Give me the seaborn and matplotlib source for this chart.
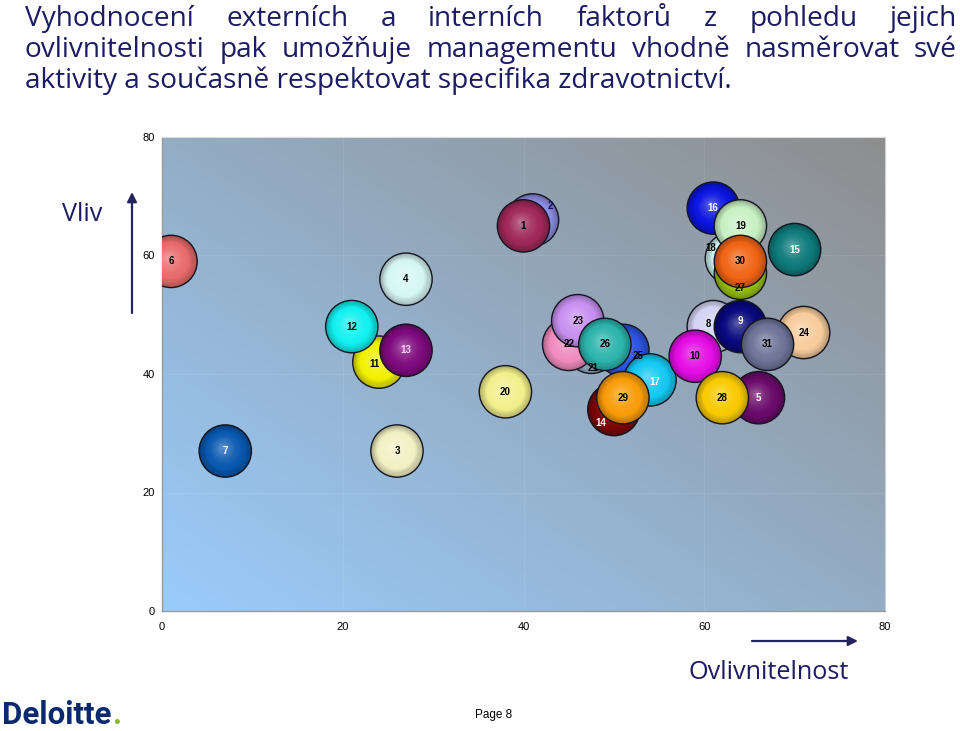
import numpy as np
import pandas as pd
import matplotlib
matplotlib.use("Agg")
import matplotlib.pyplot as plt
import matplotlib.transforms as mtransforms
from matplotlib.colors import to_rgb
import seaborn as sns

# ---------------- data ----------------
bubble_ids = list(range(1, 32))
influenceability = [40, 41, 26, 27, 66, 1, 7, 61, 64, 59, 24, 21, 27, 50, 70,
                    61, 54, 63, 64, 38, 47.5, 45, 46, 71, 51, 49, 64, 62, 51, 64, 67]
impact = [65, 66, 27, 56, 36, 59, 27, 48, 48, 43, 42, 48, 44, 34, 61,
          68, 39, 59.5, 65, 37, 44.5, 45, 49, 47, 44, 45, 57, 36, 36, 59, 45]
x_ticks = [0, 20, 40, 60, 80]
y_ticks = [0, 20, 40, 60, 80]
title_lines = [
    "Vyhodnocení externích a interních faktorů z pohledu jejich",
    "ovlivnitelnosti pak umožňuje managementu vhodně nasměrovat své",
    "aktivity a současně respektovat specifika zdravotnictví.",
]
y_axis_label = "Vliv"
x_axis_label = "Ovlivnitelnost"
page_label = "Page 8"
logo_text = "Deloitte"

# ---------------- style ----------------
bubble_colors = {
    1: "#A0285A", 2: "#8E8EE6", 3: "#F2F0C4", 4: "#D6F6F4", 5: "#6A0A6A",
    6: "#E86A6A", 7: "#0858B0", 8: "#D4D4F4", 9: "#08087E", 10: "#E40CE4",
    11: "#F2F000", 12: "#12F0F0", 13: "#7E0A7E", 14: "#7E0606", 15: "#0E7A7A",
    16: "#0A14E0", 17: "#14C8F2", 18: "#CCF2F2", 19: "#C8F0C4", 20: "#F2F08C",
    21: "#9AB0C8", 22: "#F08CBE", 23: "#C890F0", 24: "#F8CC9C", 25: "#2C54E0",
    26: "#2CB4AC", 27: "#96C20C", 28: "#F8CA00", 29: "#F89C08", 30: "#F06414",
    31: "#6E7498",
}
label_colors = {2: "#101060", 5: "white", 7: "white", 9: "white", 13: "#FFD0FF",
                14: "white", 15: "white", 16: "white", 17: "white"}
draw_order = [2, 1, 3, 4, 5, 6, 7, 16, 18, 27, 19, 30, 15, 8, 9, 24, 31, 25, 17,
              10, 28, 11, 12, 13, 14, 21, 22, 23, 26, 29, 20]
label_offsets_px = {2: (18, -14), 18: (-21, -10), 27: (0, 15), 21: (2, 21),
                    25: (15, 6), 14: (-13, 13), 8: (-5, -3), 9: (0, -6),
                    11: (-4, 2), 17: (5, 2)}
NAVY = "#1c1c64"

W, H, DPI = 960, 731, 100
sns.set_style("white")
plt.rcParams["font.family"] = ["Liberation Sans", "DejaVu Sans"]

fig = plt.figure(figsize=(W / DPI, H / DPI), dpi=DPI)
ax = fig.add_axes([162 / W, 1 - 611 / H, 723 / W, 474 / H])

# gradient background (light blue bottom-left -> grey top-right)
u = np.linspace(0, 1, 300)
U, V = np.meshgrid(u, u)
T = (U + V) / 2
c0 = np.array(to_rgb("#9ACCFC"))
c1 = np.array(to_rgb("#8E8E8E"))
img = c0[None, None, :] * (1 - T)[..., None] + c1[None, None, :] * T[..., None]
ax.imshow(img, extent=[0, 1, 0, 1], transform=ax.transAxes, origin="lower",
          aspect="auto", zorder=0, interpolation="bilinear")

df = pd.DataFrame({"id": bubble_ids, "x": influenceability, "y": impact})

S = 1420
r_pt = np.sqrt(S) / 2
for bid in draw_order:
    row = df[df["id"] == bid]
    xv, yv = float(row["x"].iloc[0]), float(row["y"].iloc[0])
    base = np.array(to_rgb(bubble_colors[bid]))
    dark = base * 0.74
    sns.scatterplot(data=row, x="x", y="y", s=S, color=tuple(dark),
                    edgecolor="none", linewidth=0, ax=ax, legend=False, zorder=3)
    n = 18
    for k in range(1, n):
        t = k / (n - 1)
        f = 1 - 0.92 * t
        if t < 0.3:
            col = dark + (base - dark) * (t / 0.3)
        else:
            col = base + (1 - base) * 0.32 * ((t - 0.3) / 0.7) ** 1.5
        tr = mtransforms.offset_copy(ax.transData, fig=fig, x=-0.12 * r_pt * t,
                                     y=0.15 * r_pt * t, units="points")
        ax.scatter([xv], [yv], s=S * f * f, color=[tuple(np.clip(col, 0, 1))],
                   linewidths=0, transform=tr, zorder=3)
    ax.scatter([xv], [yv], s=S, facecolors="none", edgecolors="#151520",
               linewidths=1.0, zorder=3)

for bid, xv, yv in zip(bubble_ids, influenceability, impact):
    dx, dy = label_offsets_px.get(bid, (0, 0))
    ax.annotate(str(bid), (xv, yv), xytext=(dx * 0.72, -dy * 0.72),
                textcoords="offset points", ha="center", va="center",
                fontsize=7, fontweight="bold", color=label_colors.get(bid, "black"),
                zorder=10, annotation_clip=False)

ax.set_xlim(0, 80)
ax.set_ylim(0, 80)
ax.set_xticks(x_ticks)
ax.set_yticks(y_ticks)
ax.set_xticklabels([str(v) for v in x_ticks])
ax.set_yticklabels([str(v) for v in y_ticks])
ax.set_xlabel("")
ax.set_ylabel("")
ax.tick_params(length=0, labelsize=8, colors="black")
ax.tick_params(axis="x", pad=8)
ax.tick_params(axis="y", pad=5)
ax.grid(True, color="white", alpha=0.08, lw=0.8)
ax.set_axisbelow(True)
for side in ["left", "bottom"]:
    ax.spines[side].set_color("#9a9a9a")
    ax.spines[side].set_linewidth(1)
ax.spines["right"].set_color("#cfcfcf")
ax.spines["top"].set_color("#dcdcdc")

# ---------------- surrounding text ----------------
renderer = fig.canvas.get_renderer()
TFONT = ["Open Sans", "DejaVu Sans"]

probe = fig.text(0, 0, title_lines[2], fontsize=19, family=TFONT)
w3 = probe.get_window_extent(renderer).width
probe.remove()
title_fs = 19 * 708 / w3


def place_line(text, baseline_px, x0_px, x1_px, justify, fs):
    if not justify:
        fig.text(x0_px / W, 1 - baseline_px / H, text, fontsize=fs, va="baseline",
                 ha="left", color=NAVY, family=TFONT)
        return
    words = text.split(" ")
    arts = [fig.text(0, 1 - baseline_px / H, w, fontsize=fs, va="baseline",
                     ha="left", color=NAVY, family=TFONT) for w in words]
    widths = [a.get_window_extent(renderer).width for a in arts]
    gap = (x1_px - x0_px - sum(widths)) / (len(words) - 1)
    x = x0_px
    for a, w in zip(arts, widths):
        a.set_x(x / W)
        x += w + gap


place_line(title_lines[0], 26, 25, 957, True, title_fs)
place_line(title_lines[1], 57, 25, 957, True, title_fs)
place_line(title_lines[2], 88, 25, 957, False, title_fs)

label_fs = title_fs * 0.9
fig.text(82 / W, 1 - 221 / H, y_axis_label, fontsize=label_fs, ha="center",
         va="baseline", color=NAVY, family=TFONT)
fig.text(769 / W, 1 - 679 / H, x_axis_label, fontsize=label_fs, ha="center",
         va="baseline", color=NAVY, family=TFONT)

arrow_kw = dict(arrowstyle="-|>", color="#24245e", lw=1.6, mutation_scale=14,
                shrinkA=0, shrinkB=0)
ax.annotate("", xy=(132 / W, 1 - 192 / H), xytext=(132 / W, 1 - 313 / H),
            xycoords="figure fraction", textcoords="figure fraction",
            arrowprops=arrow_kw, annotation_clip=False)
ax.annotate("", xy=(858 / W, 1 - 641 / H), xytext=(752 / W, 1 - 641 / H),
            xycoords="figure fraction", textcoords="figure fraction",
            arrowprops=arrow_kw, annotation_clip=False)

logo = fig.text(2 / W, 1 - 724 / H, logo_text, fontsize=22.5, fontweight="bold",
                color="#0b2a6e", family=["Roboto", "DejaVu Sans"], va="baseline",
                ha="left")
lw_ = logo.get_window_extent(renderer).width
fig.text((2 + lw_ + 1) / W, 1 - 724 / H, ".", fontsize=22.5, fontweight="bold",
         color="#86bc25", family=["Roboto", "DejaVu Sans"], va="baseline", ha="left")

fig.text(494 / W, 1 - 718 / H, page_label, fontsize=8.5, ha="center",
         va="baseline", color="black")

fig.savefig("out.png", dpi=DPI)
